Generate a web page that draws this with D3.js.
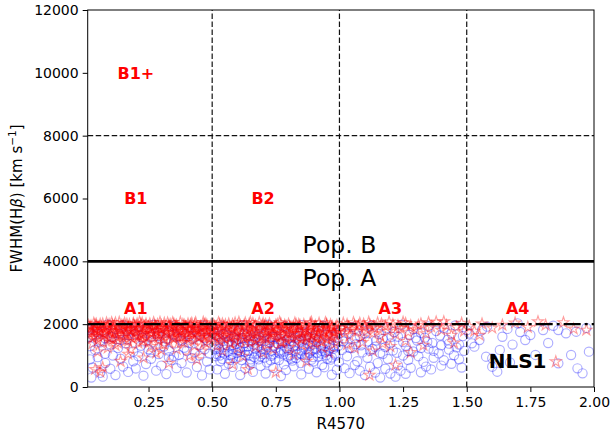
<!DOCTYPE html>
<html>
<head>
<meta charset="utf-8">
<script src="https://cdn.jsdelivr.net/npm/d3@7"></script>
<style>
  body { margin: 0; background: #fff; }
  text { font-family: "DejaVu Sans", sans-serif; }
</style>
</head>
<body>
<svg id="chart" width="612" height="433"></svg>
<script>
// Axis ticks
const xTicks = [0.25, 0.5, 0.75, 1.0, 1.25, 1.5, 1.75, 2.0];
const yTicks = [0, 2000, 4000, 6000, 8000, 10000, 12000];

// Region boundaries
const xBounds = [0.5, 1.0, 1.5];
const popBoundary = 4000;
const nls1Limit = 2000;
const b1plusLimit = 8000;

// Region labels [R4570, FWHM, text]
const regionLabels = [
  [0.2, 10000, "B1+"], [0.2, 6000, "B1"], [0.7, 6000, "B2"],
  [0.2, 2500, "A1"], [0.7, 2500, "A2"], [1.2, 2500, "A3"], [1.7, 2500, "A4"]
];
const popLabels = [[1.0, 4550, "Pop. B"], [1.0, 3480, "Pop. A"]];
const nlsLabel = [1.7, 830, "NLS1"];

// Sources shown as stars: [R4570, FWHM(Hβ)]
const starsA1 = [
[0.02,1890],[0.03,1720],[0.04,1980],[0.05,1610],[0.06,1850],[0.07,2010],[0.08,1760],[0.09,1930],[0.10,1540],[0.11,1880],
[0.12,2040],[0.13,1690],[0.14,1810],[0.15,1950],[0.16,1470],[0.17,1900],[0.18,1780],[0.19,2020],[0.20,1640],[0.21,1860],
[0.22,1990],[0.23,1720],[0.24,1580],[0.25,1920],[0.26,1830],[0.27,2050],[0.28,1680],[0.29,1870],[0.30,1960],[0.31,1510],
[0.32,1800],[0.33,1940],[0.34,1740],[0.35,2000],[0.36,1620],[0.37,1890],[0.38,1770],[0.39,1970],[0.40,1560],[0.41,1850],
[0.42,2030],[0.43,1700],[0.44,1910],[0.45,1820],[0.46,1650],[0.47,1980],[0.48,1750],[0.49,1880],
[0.025,1790],[0.045,1930],[0.065,1680],[0.085,2040],[0.105,1820],[0.125,1590],[0.145,1960],[0.165,1730],[0.185,1870],[0.205,2010],
[0.225,1450],[0.245,1790],[0.265,1910],[0.285,1760],[0.305,1870],[0.325,2040],[0.345,1560],[0.365,1830],[0.385,1990],[0.405,1710],
[0.425,1870],[0.445,1600],[0.465,1940],[0.485,1800],
[0.015,1960],[0.035,2030],[0.055,1910],[0.075,1870],[0.095,1990],[0.115,1950],[0.135,2060],[0.155,1880],[0.175,1990],[0.195,1920],
[0.215,2070],[0.235,1900],[0.255,2010],[0.275,1950],[0.295,2060],[0.315,1910],[0.335,1990],[0.355,1940],[0.375,2060],[0.395,1900],
[0.415,1990],[0.435,2050],[0.455,1930],[0.475,2010],[0.495,1960],
[0.018,1700],[0.038,1830],[0.058,1760],[0.078,1650],[0.098,1800],[0.118,1710],[0.138,1850],[0.158,1660],[0.178,1820],[0.198,1740],
[0.218,1690],[0.238,1850],[0.258,1710],[0.278,1800],[0.298,1660],[0.318,1740],[0.338,1860],[0.358,1700],[0.378,1820],[0.398,1650],
[0.418,1760],[0.438,1850],[0.458,1720],[0.478,1640],[0.498,1830],
[0.012,1850],[0.024,1940],[0.036,1620],[0.048,1780],[0.06,2000],[0.072,1700],[0.084,1890],[0.096,1560],[0.108,1960],[0.12,1770],
[0.132,1910],[0.144,1650],[0.156,2030],[0.168,1840],[0.18,1590],[0.192,1980],[0.204,1760],[0.216,1880],[0.228,1630],[0.24,2010],
[0.252,1820],[0.264,1690],[0.276,1930],[0.288,1580],[0.3,1850],[0.312,2030],[0.324,1710],[0.336,1900],[0.348,1640],[0.36,1970],
[0.372,1780],[0.384,1600],[0.396,1920],[0.408,1830],[0.42,1680],[0.432,1990],[0.444,1760],[0.456,1870],[0.468,1570],[0.48,1950],
[0.492,1810],
[0.03,1560],[0.05,1480],[0.07,1420],[0.09,1600],[0.11,1520],[0.13,1400],[0.15,1580],[0.17,1460],[0.19,1530],[0.21,1620],
[0.23,1500],[0.25,1410],[0.27,1570],[0.29,1490],[0.31,1610],[0.33,1440],[0.35,1530],[0.37,1600],[0.39,1420],[0.41,1550],
[0.43,1480],[0.45,1590],[0.47,1430],[0.49,1520],
[0.045,2000],[0.105,2050],[0.165,2000],[0.225,2040],[0.285,1990],[0.345,2050],[0.405,2010],[0.465,2060],
[0.03,1380],[0.05,1120],[0.07,620],[0.09,1250],[0.12,1330],[0.14,820],[0.18,1190],[0.21,1400],[0.23,930],[0.26,1290],
[0.28,1080],[0.31,1350],[0.33,760],[0.36,1210],[0.38,1420],[0.41,990],[0.43,1310],[0.46,1150],[0.48,1390],[0.04,560],
[0.17,1050],[0.30,1180],[0.44,870],[0.06,480]
];
const starsA2 = [
[0.50,1700],[0.51,1930],[0.52,1560],[0.53,1840],[0.54,2010],[0.55,1650],[0.56,1890],[0.57,1760],[0.58,1990],[0.59,1480],
[0.60,1820],[0.61,1950],[0.62,1700],[0.63,2040],[0.64,1590],[0.65,1870],[0.66,1780],[0.67,1960],[0.68,1530],[0.69,1850],
[0.70,2020],[0.71,1680],[0.72,1910],[0.73,1800],[0.74,1620],[0.75,1970],[0.76,1740],[0.77,1880],[0.78,1440],[0.79,1830],
[0.80,2000],[0.81,1710],[0.82,1920],[0.83,1600],[0.84,1860],[0.85,1770],[0.86,1990],[0.87,1550],[0.88,1810],[0.89,1940],
[0.90,1690],[0.91,1870],[0.92,2030],[0.93,1580],[0.94,1790],[0.95,1950],[0.96,1660],[0.97,1880],[0.98,1740],[0.99,1960],
[0.505,1980],[0.525,2050],[0.545,1920],[0.565,2010],[0.585,1900],[0.605,2060],[0.625,1960],[0.645,2000],[0.665,1910],[0.685,2050],
[0.705,1940],[0.725,2010],[0.745,1890],[0.765,2060],[0.785,1970],[0.805,1920],[0.825,2040],[0.845,1960],[0.865,1900],[0.885,2030],
[0.905,1950],[0.925,1910],[0.945,2050],[0.965,1980],[0.985,1900],
[0.515,1780],[0.535,1660],[0.555,1810],[0.575,1590],[0.595,1740],[0.615,1640],[0.635,1820],[0.655,1680],[0.675,1750],[0.695,1600],
[0.715,1790],[0.735,1700],[0.755,1840],[0.775,1650],[0.795,1730],[0.815,1820],[0.835,1690],[0.855,1580],[0.875,1760],[0.895,1640],
[0.915,1720],[0.935,1850],[0.955,1610],[0.975,1730],[0.995,1800],
[0.504,1640],[0.516,1920],[0.528,1770],[0.54,1590],[0.552,1980],[0.564,1700],[0.576,1860],[0.588,1620],[0.6,1940],
[0.612,1790],[0.624,1560],[0.636,1900],[0.648,1750],[0.66,2020],[0.672,1660],[0.684,1830],[0.696,1950],[0.708,1590],[0.72,1780],
[0.732,1900],[0.744,1700],[0.756,1990],[0.768,1610],[0.78,1850],[0.792,1920],[0.804,1690],[0.816,1560],[0.828,1880],[0.84,1990],
[0.852,1710],[0.864,1830],[0.876,1620],[0.888,1950],[0.9,1780],[0.912,1600],[0.924,1870],[0.936,1730],[0.948,1540],[0.96,1820],
[0.972,1920],[0.984,1650],[0.996,1780],
[0.51,1600],[0.53,1470],[0.55,1540],[0.57,1410],[0.59,1620],[0.61,1500],[0.63,1440],[0.65,1580],[0.67,1470],[0.69,1400],
[0.71,1560],[0.73,1490],[0.75,1610],[0.77,1450],[0.79,1530],[0.81,1580],[0.83,1420],[0.85,1510],[0.87,1600],[0.89,1460],
[0.91,1540],[0.93,1430],[0.95,1500],[0.97,1590],[0.99,1440],
[0.53,1990],[0.59,2040],[0.65,2060],[0.71,1990],[0.77,2010],[0.83,1980],[0.89,2060],[0.95,2000],
[0.52,1320],[0.54,1150],[0.57,1380],[0.60,1240],[0.62,980],[0.65,1420],[0.67,1290],[0.70,1090],[0.72,1360],[0.74,1200],
[0.77,1410],[0.80,1260],[0.82,1030],[0.85,1340],[0.88,1180],[0.90,1400],[0.93,1270],[0.96,1100],[0.98,1370],[0.64,560],
[0.75,470],[0.87,820],[0.58,720]
];
const starsA3 = [
[1.01,1880],[1.02,1720],[1.03,1990],[1.04,1640],[1.05,1840],[1.06,1950],[1.07,1770],[1.08,2030],[1.09,1590],[1.10,1900],
[1.11,1810],[1.12,1970],[1.13,1700],[1.14,1860],[1.15,2040],[1.16,1620],[1.18,1930],[1.19,1780],[1.21,1990],[1.22,1680],
[1.24,1870],[1.25,2060],[1.27,1750],[1.28,1950],[1.30,1830],[1.32,2010],[1.34,1700],[1.36,1920],[1.38,2070],[1.40,1810],
[1.42,1960],[1.44,1650],[1.46,1900],[1.48,2030],[1.49,1780],
[1.015,2030],[1.035,1910],[1.055,2050],[1.075,1940],[1.095,2000],[1.115,2060],[1.135,1930],[1.165,2010],[1.195,2070],[1.23,1950],
[1.26,2020],[1.31,1960],[1.35,2050],[1.41,2080],
[1.03,1350],[1.06,1240],[1.09,1420],[1.13,1150],[1.17,1380],[1.20,1290],[1.26,1460],[1.33,1330],[1.118,380],[1.22,700],
[1.28,1100],[1.45,1400]
];
const starsA4 = [
[1.51,1930],[1.53,1780],[1.56,2010],[1.60,1880],[1.64,1970],[1.69,2040],[1.74,1900],[1.81,1970],[1.88,2050],[1.92,1850],
[1.97,1814],[1.85,805],[1.55,1650],[1.78,2080]
];

// Sources shown as open circles: [R4570, FWHM(Hβ)]
const circlesA1 = [
[0.015,1820],[0.03,1650],[0.045,1930],[0.06,1480],[0.075,1760],[0.09,1990],[0.105,1590],[0.12,1850],[0.135,1700],[0.15,1960],
[0.165,1520],[0.18,1800],[0.195,1680],[0.21,1910],[0.225,1570],[0.24,1840],[0.255,1730],[0.27,1980],[0.285,1620],[0.30,1870],
[0.315,1450],[0.33,1760],[0.345,1940],[0.36,1600],[0.375,1810],[0.39,1700],[0.405,1920],[0.42,1540],[0.435,1850],[0.45,1660],
[0.465,1960],[0.48,1490],[0.495,1780],
[0.02,1600],[0.05,1760],[0.08,1550],[0.11,1700],[0.14,1500],[0.17,1650],[0.20,1780],[0.23,1450],[0.26,1600],[0.29,1720],
[0.32,1530],[0.35,1680],[0.38,1480],[0.41,1620],[0.44,1750],[0.47,1560],
[0.02,1300],[0.04,1180],[0.06,1420],[0.08,1060],[0.10,1350],[0.13,1240],[0.16,1390],[0.19,1130],[0.22,1310],[0.25,1200],
[0.27,1420],[0.29,1050],[0.31,1290],[0.33,1160],[0.35,1380],[0.37,1020],[0.39,1250],[0.41,1400],[0.43,1110],[0.45,1330],
[0.47,1200],[0.49,1060],[0.26,1100],[0.40,1150],[0.45,1000],[0.33,950],
[0.02,880],[0.03,620],[0.05,950],[0.06,450],[0.08,760],[0.10,580],[0.12,380],[0.14,900],[0.15,650],[0.17,480],
[0.19,820],[0.20,590],[0.23,360],[0.24,730],[0.26,900],[0.28,520],[0.30,680],[0.32,410],[0.34,860],[0.36,600],
[0.38,760],[0.40,460],[0.42,920],[0.44,640],[0.46,370],[0.48,810],[0.49,560],[0.11,1000],[0.21,980],[0.35,990],
[0.025,300],[0.07,330]
];
const circlesA2 = [
[0.505,1850],[0.52,1620],[0.537,1930],[0.553,1710],[0.57,1880],[0.587,1560],[0.603,1790],[0.62,1960],[0.637,1650],[0.653,1830],
[0.67,1520],[0.687,1900],[0.703,1740],[0.72,1980],[0.737,1600],[0.753,1860],[0.77,1690],[0.787,1940],[0.803,1580],[0.82,1810],
[0.837,1720],[0.853,1970],[0.87,1630],[0.887,1870],[0.903,1540],[0.92,1780],[0.937,1950],[0.953,1660],[0.97,1890],[0.987,1710],
[0.51,1380],[0.527,1210],[0.543,1460],[0.56,1120],[0.577,1330],[0.593,1490],[0.61,1250],[0.627,1400],[0.643,1150],[0.66,1360],
[0.677,1270],[0.693,1470],[0.71,1180],[0.727,1420],[0.743,1300],[0.76,1100],[0.777,1440],[0.793,1230],[0.81,1370],[0.827,1140],
[0.843,1480],[0.86,1260],[0.877,1390],[0.893,1170],[0.91,1430],[0.927,1290],[0.943,1120],[0.96,1350],[0.977,1220],[0.993,1460],
[0.508,1720],[0.518,1050],[0.53,1410],[0.54,890],[0.55,1280],[0.562,1640],[0.573,1010],[0.583,1190],[0.595,1380],[0.607,960],
[0.618,1560],[0.628,1120],[0.64,1300],[0.652,880],[0.662,1450],[0.672,1060],[0.683,1680],[0.695,1200],[0.706,940],[0.716,1340],
[0.728,1580],[0.74,1040],[0.75,1250],[0.762,860],[0.772,1390],[0.782,1130],[0.795,1510],[0.806,1010],[0.818,1290],[0.83,920],
[0.84,1410],[0.852,1160],[0.862,1730],[0.873,1030],[0.885,1320],[0.896,950],[0.908,1210],[0.918,1540],[0.93,1060],[0.94,1380],
[0.952,900],[0.963,1250],[0.975,1600],[0.985,1000],[0.996,1310],
[0.512,1200],[0.535,1100],[0.558,1340],[0.58,1050],[0.60,1180],[0.622,1290],[0.645,1020],[0.668,1220],[0.69,1110],[0.712,1290],
[0.735,1160],[0.757,1380],[0.78,1040],[0.80,1180],[0.823,1330],[0.845,1080],[0.868,1200],[0.89,1420],[0.912,1090],[0.935,1230],
[0.957,1140],[0.98,1290],
[0.53,1000],[0.57,860],[0.61,1120],[0.65,800],[0.69,980],[0.73,850],[0.77,1180],[0.81,900],[0.85,1050],[0.89,870],
[0.93,1150],[0.97,940],
[0.515,980],[0.532,820],[0.548,1060],[0.565,740],[0.582,930],[0.598,1080],[0.615,860],[0.632,1010],[0.648,710],[0.665,950],
[0.682,880],[0.698,1050],[0.715,780],[0.732,990],[0.748,900],[0.765,1070],[0.782,720],[0.798,960],[0.815,840],[0.832,1030],
[0.848,760],[0.865,940],[0.882,1090],[0.898,810],[0.915,970],[0.932,700],[0.948,1010],[0.965,870],[0.982,1060],[0.998,790],
[0.52,560],[0.55,420],[0.58,640],[0.61,380],[0.63,590],[0.66,480],[0.69,670],[0.71,430],[0.74,610],[0.77,350],
[0.79,540],[0.82,660],[0.85,400],[0.88,580],[0.91,470],[0.94,630],[0.97,390],[0.99,550],
[0.525,1550],[0.545,1680],[0.565,1450],[0.585,1600],[0.605,1520],[0.625,1700],[0.645,1480],[0.665,1620],[0.685,1560],[0.705,1650],
[0.725,1500],[0.745,1590],[0.765,1530],[0.785,1640],[0.805,1470],[0.825,1570],[0.845,1620],[0.865,1510],[0.885,1580],[0.905,1660]
];
const circlesA3 = [
[1.005,1820],[1.02,1540],[1.035,1700],[1.05,1910],[1.065,1360],[1.08,1620],[1.095,1800],[1.11,1450],[1.125,1950],[1.14,1280],
[1.155,1690],[1.17,1530],[1.185,1870],[1.20,1390],[1.215,1750],[1.23,1600],[1.245,1980],[1.26,1310],[1.275,1660],[1.29,1840],
[1.305,1480],[1.32,1720],[1.335,1570],[1.35,1930],[1.365,1400],[1.38,1780],[1.395,1640],[1.41,1880],[1.425,1500],[1.44,1700],
[1.455,1960],[1.47,1350],[1.485,1620],[1.50,1810],
[1.015,1450],[1.04,1250],[1.06,1560],[1.085,1330],[1.10,1700],[1.12,1150],[1.145,1480],[1.16,1080],[1.18,1270],[1.205,1600],
[1.225,1090],[1.25,1430],[1.27,1150],[1.30,1560],[1.32,1240],[1.345,1440],[1.37,1150],[1.40,1330],[1.43,1380],[1.46,1260],
[1.01,1180],[1.03,980],[1.05,1240],[1.07,820],[1.09,1100],[1.11,930],[1.13,1210],[1.15,760],[1.17,1050],[1.19,890],
[1.21,1160],[1.23,690],[1.25,1000],[1.27,860],[1.29,1130],[1.31,980],[1.33,800],[1.35,1220],[1.37,930],[1.39,1070],
[1.41,850],[1.43,1190],[1.45,1010],[1.47,880],[1.49,1150],
[1.02,600],[1.04,440],[1.06,700],[1.08,520],[1.10,380],[1.12,640],[1.14,460],[1.16,300],[1.18,580],[1.20,430],
[1.24,520],[1.26,420],[1.28,610],[1.32,470],[1.36,560],[1.40,680],[1.44,740],[1.48,620],[1.22,330],[1.34,650]
];
const circlesA4 = [
[1.51,1700],[1.52,1390],[1.53,1283],[1.55,1496],[1.56,1820],[1.576,964],[1.60,913],[1.60,646],[1.62,487],[1.63,1180],
[1.64,1600],[1.66,1850],[1.68,1350],[1.70,2027],[1.71,1750],[1.73,1496],[1.75,1655],[1.77,1020],[1.80,1815],[1.82,1400],
[1.86,1815],[1.86,754],[1.89,1709],[1.91,1018],[1.93,1760],[1.935,595],[1.955,436],[1.98,1124],[1.58,1920],[1.67,780],
[1.84,1950],[1.97,1880]
];

const circles = [].concat(circlesA1, circlesA2, circlesA3, circlesA4);
const stars = [].concat(starsA1, starsA2, starsA3, starsA4);

const plot = { left: 87.7, right: 594, top: 10, bottom: 387 };

const svg = d3.select("#chart");
const x = d3.scaleLinear().domain([0.011, 2.0]).range([plot.left, plot.right]);
const y = d3.scaleLinear().domain([0, 12000]).range([plot.bottom, plot.top]);

svg.append("defs").append("clipPath").attr("id", "plotclip")
  .append("rect")
  .attr("x", plot.left).attr("y", plot.top)
  .attr("width", plot.right - plot.left).attr("height", plot.bottom - plot.top);

const g = svg.append("g").attr("clip-path", "url(#plotclip)");

// Open circles
g.append("g").selectAll("circle").data(circles).join("circle")
  .attr("cx", d => x(d[0])).attr("cy", d => y(d[1]))
  .attr("r", 4.6)
  .attr("fill", "none").attr("stroke", "#0000ff")
  .attr("stroke-opacity", 0.32).attr("stroke-width", 1.15);

// Stars
const star = d3.symbol().type(d3.symbolStar).size(38);
g.append("g").selectAll("path").data(stars).join("path")
  .attr("d", star)
  .attr("transform", d => `translate(${x(d[0])},${y(d[1])})`)
  .attr("fill", "none").attr("stroke", "#ff0000")
  .attr("stroke-opacity", 0.38).attr("stroke-width", 1.15);

// Region boundaries
g.append("g").selectAll("line").data(xBounds).join("line")
  .attr("x1", d => x(d)).attr("x2", d => x(d))
  .attr("y1", y(0)).attr("y2", y(12000))
  .attr("stroke", "#111").attr("stroke-width", 1.2)
  .attr("stroke-dasharray", "5.5,2.5");

g.append("line")
  .attr("x1", plot.left).attr("x2", plot.right)
  .attr("y1", y(b1plusLimit)).attr("y2", y(b1plusLimit))
  .attr("stroke", "#111").attr("stroke-width", 1.2)
  .attr("stroke-dasharray", "5.5,2.5");

g.append("line")
  .attr("x1", plot.left).attr("x2", plot.right)
  .attr("y1", y(popBoundary)).attr("y2", y(popBoundary))
  .attr("stroke", "#000").attr("stroke-width", 2.6);

g.append("line")
  .attr("x1", plot.left).attr("x2", plot.right)
  .attr("y1", y(nls1Limit)).attr("y2", y(nls1Limit))
  .attr("stroke", "#000").attr("stroke-width", 2.4)
  .attr("stroke-dasharray", "17,4,3,4");

// Labels inside the plot
svg.append("g").selectAll("text").data(regionLabels).join("text")
  .attr("x", d => x(d[0])).attr("y", d => y(d[1]))
  .attr("text-anchor", "middle").attr("dy", "0.36em")
  .attr("font-size", 16).attr("font-weight", "bold").attr("fill", "#ff0000")
  .text(d => d[2]);

svg.append("g").selectAll("text").data(popLabels).join("text")
  .attr("x", d => x(d[0])).attr("y", d => y(d[1]))
  .attr("text-anchor", "middle").attr("dy", "0.36em")
  .attr("font-size", 23.5).attr("fill", "#000")
  .text(d => d[2]);

svg.append("text")
  .attr("x", x(nlsLabel[0])).attr("y", y(nlsLabel[1]))
  .attr("text-anchor", "middle").attr("dy", "0.36em")
  .attr("font-size", 20).attr("font-weight", "bold").attr("fill", "#000")
  .text(nlsLabel[2]);

// Axes
const xAxis = svg.append("g")
  .attr("transform", `translate(0,${plot.bottom})`)
  .call(d3.axisBottom(x).tickValues(xTicks).tickFormat(d3.format(".2f")).tickSize(5).tickSizeOuter(0).tickPadding(5));
const yAxis = svg.append("g")
  .attr("transform", `translate(${plot.left},0)`)
  .call(d3.axisLeft(y).tickValues(yTicks).tickFormat(d3.format("d")).tickSize(5).tickSizeOuter(0).tickPadding(4));

[xAxis, yAxis].forEach(a => {
  a.select(".domain").remove();
  a.selectAll("text").attr("font-family", "DejaVu Sans").attr("font-size", 14).attr("fill", "#000");
  a.selectAll("line").attr("stroke", "#000").attr("stroke-width", 1);
});

// Frame
svg.append("rect")
  .attr("x", plot.left).attr("y", plot.top)
  .attr("width", plot.right - plot.left).attr("height", plot.bottom - plot.top)
  .attr("fill", "none").attr("stroke", "#000").attr("stroke-width", 1);

// Axis titles
svg.append("text")
  .attr("x", (plot.left + plot.right) / 2).attr("y", 429)
  .attr("text-anchor", "middle").attr("font-size", 15).attr("fill", "#000")
  .text("R4570");

const yl = svg.append("text")
  .attr("transform", `translate(22,${(plot.top + plot.bottom) / 2}) rotate(-90)`)
  .attr("text-anchor", "middle").attr("font-size", 15).attr("fill", "#000");
yl.append("tspan").text("FWHM(H");
yl.append("tspan").attr("font-style", "italic").text("β");
yl.append("tspan").text(") [km s");
yl.append("tspan").attr("font-size", 10.5).attr("dy", "-0.6em").text("−1");
yl.append("tspan").attr("dy", "0.42em").text("]");
</script>
</body>
</html>
